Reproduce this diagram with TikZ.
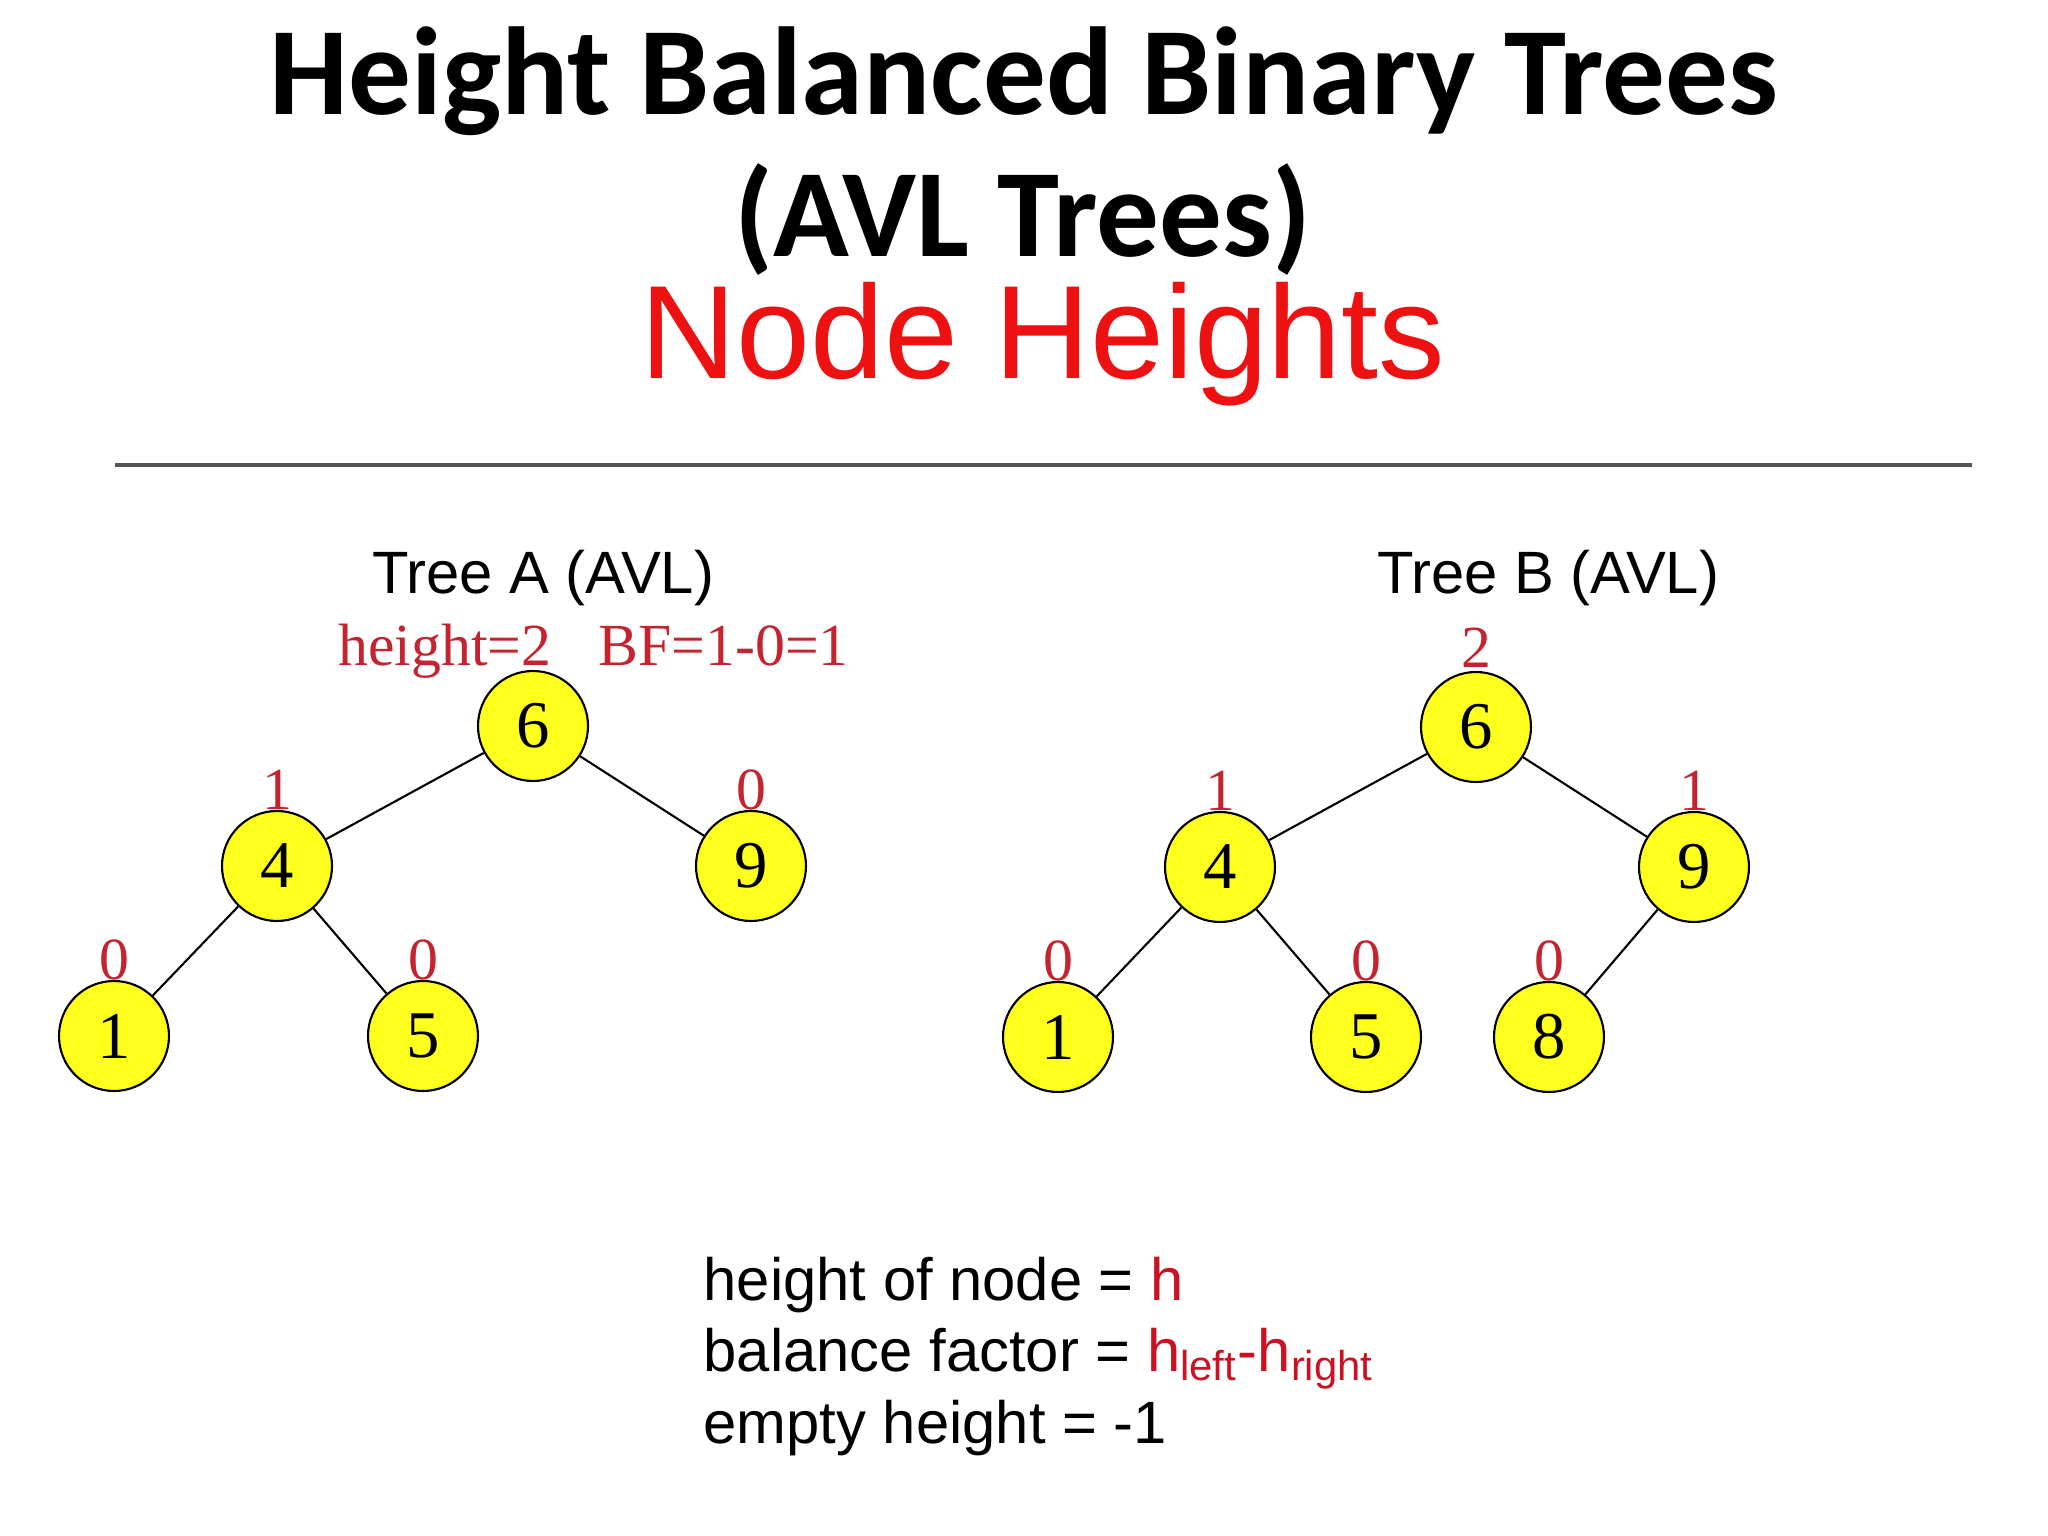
\documentclass[tikz,border=0pt]{standalone}
\usepackage{fontspec}
\setmainfont{Liberation Serif}
\setsansfont{Liberation Sans}
\newfontfamily\titlefont{Carlito}
\usetikzlibrary{positioning}
\definecolor{avlYellow}{HTML}{FFFF1E}
\definecolor{avlRed}{HTML}{EE1111}
\definecolor{avlCrimson}{HTML}{C42330}
\definecolor{avlLegRed}{HTML}{CC1122}
\definecolor{avlRule}{HTML}{555555}

\begin{document}
\begin{tikzpicture}[
  on grid,
  avlnode/.style={
    circle, draw=black, fill=avlYellow, line width=0.6pt,
    minimum size=1.1cm, inner sep=0pt, font=\fontsize{19}{19}\selectfont,
  },
  hlabel/.style={anchor=base, inner sep=0pt, text=avlCrimson, font=\fontsize{17}{17}\selectfont},
  treetitle/.style={anchor=base, inner sep=0pt, font=\sffamily\fontsize{17}{20}\selectfont},
  legendline/.style={anchor=base west, inner sep=0pt, font=\sffamily\fontsize{17}{20}\selectfont},
  link/.style={line width=0.6pt},
  divider/.style={line width=1pt, avlRule},
]
\useasboundingbox (0,0) rectangle (20.48,-15.36);

% Titles
\node[anchor=base, font=\titlefont\bfseries\fontsize{35.6}{42}\selectfont] (title1) at (10.24,-1.15) {Height Balanced Binary Trees};
\node[anchor=base, font=\titlefont\bfseries\fontsize{35.6}{42}\selectfont] (title2) at (10.23,-2.57) {(AVL Trees)};
\node[anchor=base, text=avlRed, font=\sffamily\fontsize{37.8}{40}\selectfont] (subtitle) at (10.43,-3.79) {Node Heights};

% Rule
\coordinate (ruleL) at (1.15,-4.65);
\coordinate (ruleR) at (19.72,-4.65);
\draw[divider] (ruleL) -- (ruleR);

% Tree A
\node[treetitle] (treeA) at (5.43,-5.94) {Tree A (AVL)};
\node[avlnode] (a6) at (5.33,-7.26) {6};
\node[avlnode, below left=1.40cm and 2.56cm of a6] (a4) {4};
\node[avlnode, below right=1.40cm and 2.18cm of a6] (a9) {9};
\node[avlnode, below left=1.70cm and 1.63cm of a4] (a1) {1};
\node[avlnode, below right=1.70cm and 1.46cm of a4] (a5) {5};

\draw[link] (a6) -- (a4);
\draw[link] (a6) -- (a9);
\draw[link] (a4) -- (a1);
\draw[link] (a4) -- (a5);

\node[hlabel, anchor=base east] (ha6) at ([xshift=0.19cm, yshift=0.04cm]a6.north) {height=2};
\node[hlabel, anchor=base west] (bfa) at ([xshift=0.46cm]ha6.base east) {BF=1-0=1};
\node[hlabel] (ha4) at (a4.north) {1};
\node[hlabel] (ha9) at (a9.north) {0};
\node[hlabel] (ha1) at (a1.north) {0};
\node[hlabel] (ha5) at (a5.north) {0};

% Tree B
\node[treetitle] (treeB) at (15.48,-5.94) {Tree B (AVL)};
\node[avlnode] (b6) at (14.76,-7.27) {6};
\node[avlnode, below left=1.40cm and 2.56cm of b6] (b4) {4};
\node[avlnode, below right=1.40cm and 2.18cm of b6] (b9) {9};
\node[avlnode, below left=1.70cm and 1.62cm of b4] (b1) {1};
\node[avlnode, below right=1.70cm and 1.46cm of b4] (b5) {5};
\node[avlnode, below left=1.70cm and 1.45cm of b9] (b8) {8};

\draw[link] (b6) -- (b4);
\draw[link] (b6) -- (b9);
\draw[link] (b4) -- (b1);
\draw[link] (b4) -- (b5);
\draw[link] (b9) -- (b8);

\node[hlabel] (hb6) at ([yshift=0.03cm]b6.north) {2};
\node[hlabel] (hb4) at (b4.north) {1};
\node[hlabel] (hb9) at (b9.north) {1};
\node[hlabel] (hb1) at (b1.north) {0};
\node[hlabel] (hb5) at (b5.north) {0};
\node[hlabel] (hb8) at (b8.north) {0};

% Legend
\node[legendline] (leg1) at (7.03,-13.00) {height of node = \textcolor{avlLegRed}{h}};
\node[legendline] (leg2) at ([yshift=-0.71cm]leg1.base west) {balance factor = \textcolor{avlLegRed}{h\textsubscript{left}-h\textsubscript{right}}};
\node[legendline] (leg3) at ([yshift=-0.72cm]leg2.base west) {empty height = -1};

\end{tikzpicture}
\end{document}
